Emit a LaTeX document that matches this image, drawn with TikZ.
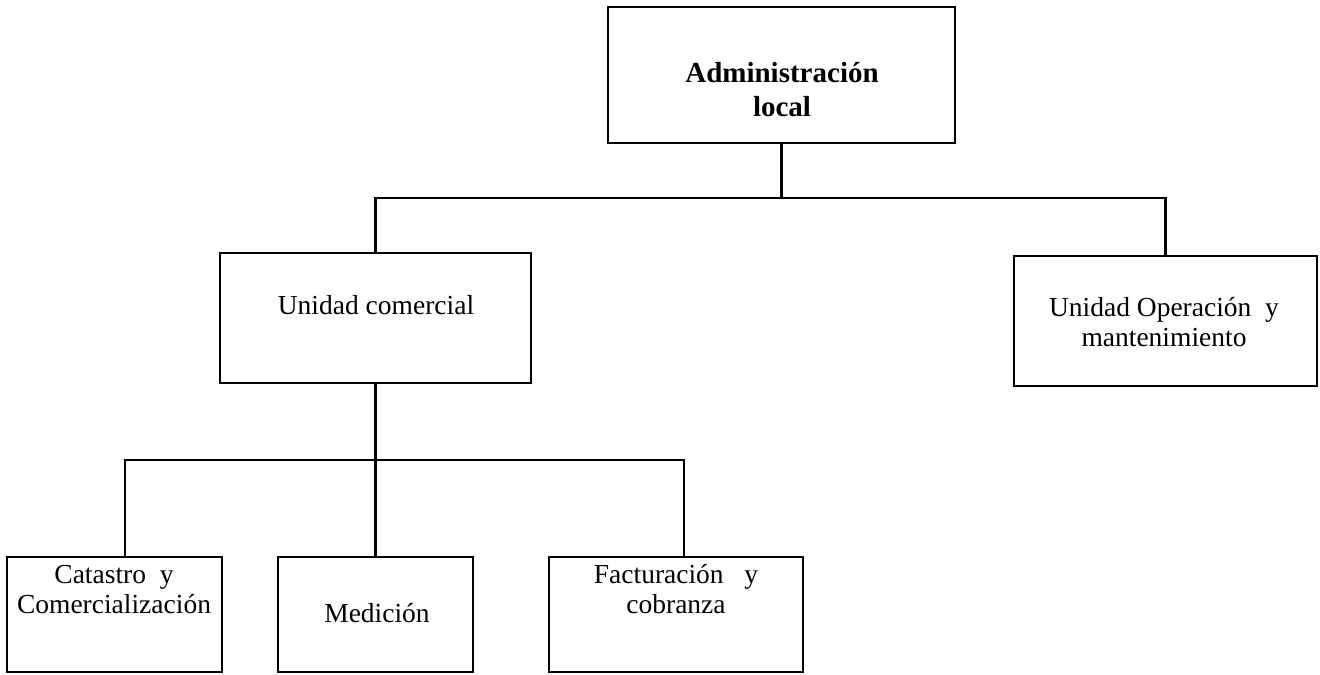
\documentclass[tikz,border=0pt]{standalone}
\usepackage{fontspec}
\setmainfont{Liberation Serif}
\begin{document}
\begin{tikzpicture}[x=0.5pt, y=-0.5pt,
  unit/.style={draw=black, line width=1.4pt, inner sep=0pt, fill=white},
  wire/.style={draw=black, line width=1.4pt},
  caption/.style={align=center, inner sep=0pt, font=\fontsize{13.75}{15}\selectfont},
  headcaption/.style={align=center, inner sep=0pt, font=\fontsize{14.5}{17}\selectfont\bfseries}]
  \useasboundingbox[fill=white] (0,0) rectangle (1320,674);

  % boxes of the organisation chart
  \node[unit, minimum width=173.5pt, minimum height=68pt] (admin) at (781.5,75) {};
  \node[unit, minimum width=155.5pt, minimum height=65pt] (uc) at (375.5,318) {};
  \node[unit, minimum width=151.5pt, minimum height=65pt] (op) at (1165.5,321) {};
  \node[unit, minimum width=107.5pt, minimum height=57.5pt] (cat) at (114.5,614.5) {};
  \node[unit, minimum width=97.5pt, minimum height=57.5pt] (med) at (375.5,614.5) {};
  \node[unit, minimum width=127pt, minimum height=57.5pt] (fac) at (676,614.5) {};

  % texts inside the boxes
  \node[headcaption] (admin-t) at (782,90) {Administración\\local};
  \node[caption] (uc-t) at (376,305) {Unidad comercial};
  \node[caption] (op-t) at (1164,322) {Unidad Operación\ \ y\\mantenimiento};
  \node[caption] (cat-t) at (114,590) {Catastro\ \ y\\Comercialización};
  \node[caption] (med-t) at (377,613) {Medición};
  \node[caption] (fac-t) at (676,589) {Facturación\ \ \ y\\cobranza};

  % levels of the two branching lines
  \coordinate (busA) at (0,198);
  \coordinate (busB) at (0,460);

  % drop points on the lower boxes
  \coordinate (catIn) at ([xshift=5.25pt]cat.north);
  \coordinate (medIn) at (med.north);
  \coordinate (facIn) at ([xshift=4pt]fac.north);

  % first level connectors
  \draw[wire] (admin.south) -- (admin.south |- busA);
  \draw[wire] (uc.north) -- (uc.north |- busA) -- (op.north |- busA) -- (op.north);

  % second level connectors
  \draw[wire] (uc.south) -- (uc.south |- busB);
  \draw[wire] (catIn) -- (catIn |- busB) -- (facIn |- busB) -- (facIn);
  \draw[wire] (medIn |- busB) -- (medIn);
\end{tikzpicture}
\end{document}
